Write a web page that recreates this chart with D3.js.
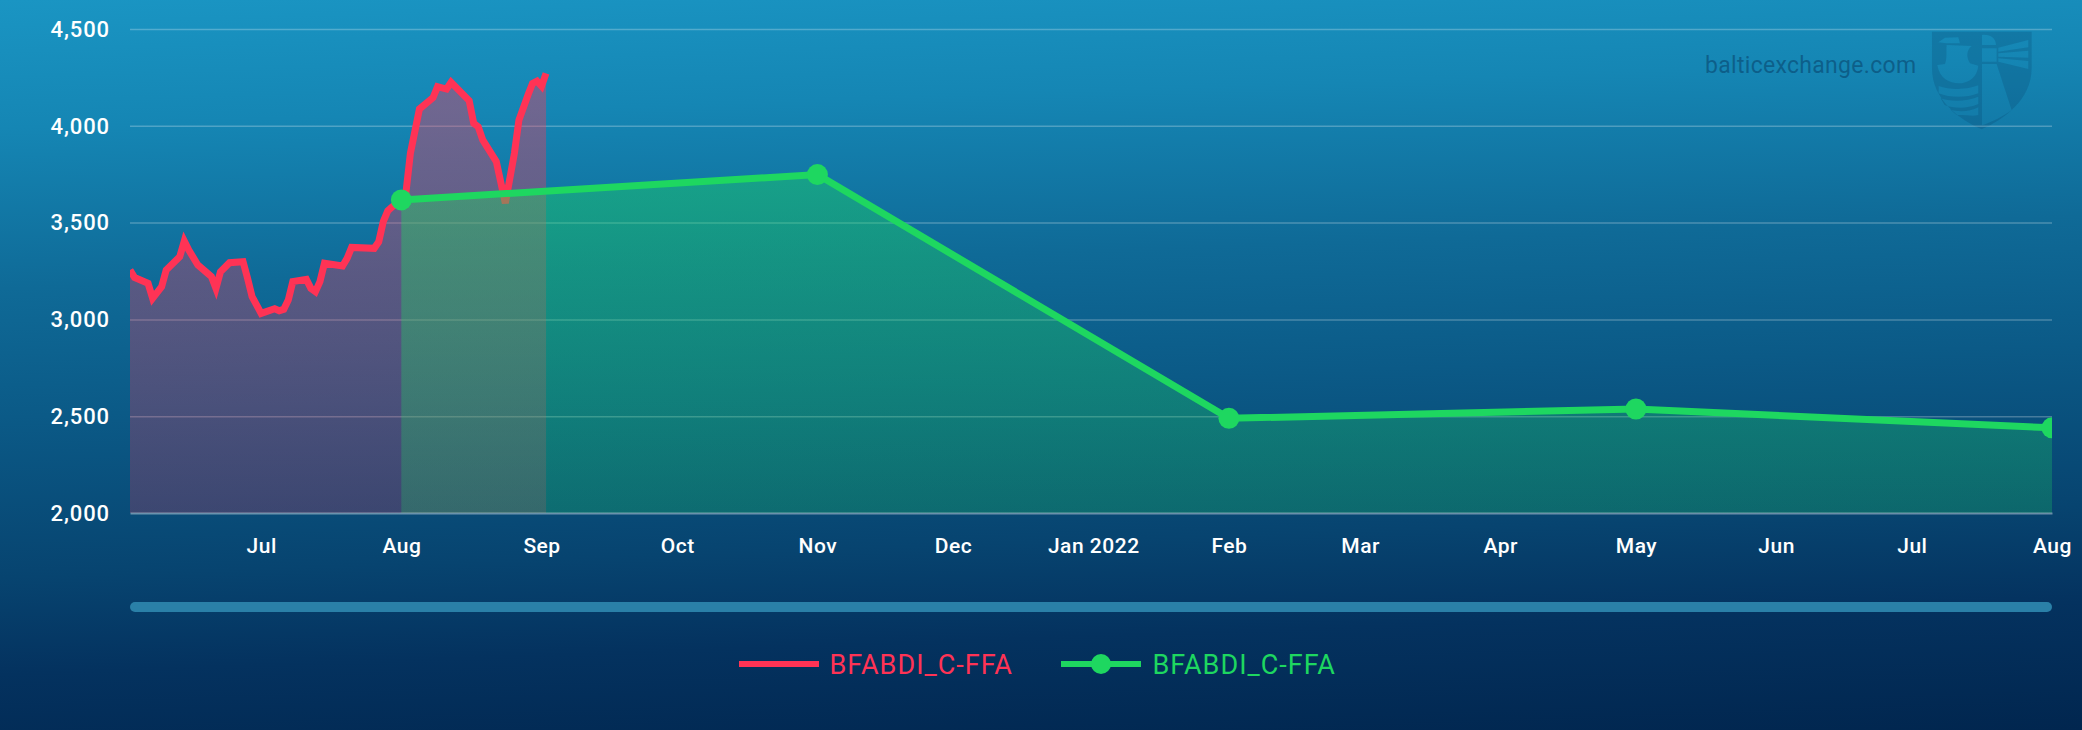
<!DOCTYPE html>
<html><head><meta charset="utf-8">
<script src="https://cdnjs.cloudflare.com/ajax/libs/d3/7.8.5/d3.min.js"></script>
<style>
html,body{margin:0;padding:0;width:2082px;height:730px;overflow:hidden;}
body{background:linear-gradient(178deg,#1a95c3 0%,#1586b4 16%,#0f6a97 36%,#0b5a87 52%,#074470 72%,#04325f 84%,#01264f 100%);}
svg{display:block;font-family:Roboto,sans-serif;}
</style></head><body>
<svg id="c" width="2082" height="730"></svg>
<script>
const redDates=["2021-06-02","2021-06-03","2021-06-06","2021-06-07","2021-06-09","2021-06-10","2021-06-13","2021-06-14","2021-06-15","2021-06-17","2021-06-20","2021-06-21","2021-06-22","2021-06-24","2021-06-27","2021-06-28","2021-06-29","2021-07-01","2021-07-04","2021-07-05","2021-07-06","2021-07-07","2021-07-08","2021-07-11","2021-07-12","2021-07-13","2021-07-14","2021-07-15","2021-07-19","2021-07-20","2021-07-21","2021-07-26","2021-07-27","2021-07-28","2021-07-29","2021-07-30","2021-08-01","2021-08-02","2021-08-03","2021-08-05","2021-08-08","2021-08-09","2021-08-11","2021-08-12","2021-08-16","2021-08-17","2021-08-18","2021-08-19","2021-08-22","2021-08-24","2021-08-26","2021-08-27","2021-08-29","2021-08-30","2021-08-31","2021-09-01","2021-09-02"];
const redValues=[3255,3217,3186,3109,3169,3255,3324,3405,3358,3281,3221,3160,3246,3293,3298,3212,3117,3031,3055,3045,3052,3100,3195,3207,3160,3143,3195,3290,3276,3315,3372,3367,3401,3505,3561,3582,3615,3651,3858,4087,4145,4202,4190,4225,4130,4013,3995,3927,3815,3600,3858,4030,4159,4219,4231,4205,4271];
const greenDates=["2021-08-01","2021-11-01","2022-01-31","2022-05-01","2022-08-01"];
const greenValues=[3617,3748,2489,2537,2440];
const yTicks=[2000,2500,3000,3500,4000,4500];
const xTickDates=["2021-07-01","2021-08-01","2021-09-01","2021-10-01","2021-11-01","2021-12-01","2022-01-01","2022-01-31","2022-03-01","2022-04-01","2022-05-01","2022-06-01","2022-07-01","2022-08-01"];
const xTickLabels=["Jul","Aug","Sep","Oct","Nov","Dec","Jan 2022","Feb","Mar","Apr","May","Jun","Jul","Aug"];
const seriesNames=["BFABDI_C-FFA","BFABDI_C-FFA"];
const RED="#ff3355",GREEN="#1ed760";
const L=130,R=2052,T=29,B=513;
const pd=d3.utcParse("%Y-%m-%d");
const x=d3.scaleUtc().domain([pd("2021-06-02"),pd("2022-08-01")]).range([L,R]);
const y=d3.scaleLinear().domain([2000,4500]).range([B,T]);
const svg=d3.select("#c");
const defs=svg.append("defs");
defs.append("clipPath").attr("id","plot").append("rect").attr("x",L).attr("y",0).attr("width",R-L).attr("height",B+6);
[["gr",RED,0.40,0.21],["gg",GREEN,0.42,0.24]].forEach(([id,c,a,b])=>{
 const g=defs.append("linearGradient").attr("id",id).attr("x1",0).attr("x2",0).attr("y1",0).attr("y2",1);
 g.append("stop").attr("offset",0).attr("stop-color",c).attr("stop-opacity",a);
 g.append("stop").attr("offset",1).attr("stop-color",c).attr("stop-opacity",b);
});

// watermark
const logo=svg.append("g").attr("class","watermark");
logo.append("text").attr("x",1705).attr("y",73).attr("font-size",23).attr("letter-spacing",0.3).attr("fill","#05385f").attr("fill-opacity",0.5).text("balticexchange.com");
logo.append("path").attr("transform","translate(1650,0) scale(0.3333)")
 .attr("fill","#05385f").attr("fill-opacity",0.2).attr("fill-rule","evenodd")
 .attr("d","M846,95 L1145,95 L1145,205 C1145,300 1060,360 995,388 C930,360 846,300 846,205 Z "+
  "M862,195 C868,235 900,250 925,250 C955,250 982,232 985,197 L960,190 C948,170 950,150 965,138 L890,135 C888,155 892,175 885,192 Z "+
  "M865,127 L885,113 L925,112 L930,130 L890,130 Z "+
  "M866,258 C900,270 950,270 985,256 L985,280 C950,294 900,294 866,280 Z "+
  "M872,295 C900,305 950,305 985,290 L985,312 C950,328 910,325 884,315 Z "+
  "M900,328 C925,338 960,335 985,322 L985,345 C970,350 950,345 920,345 Z "+
  "M996,105 C1020,102 1038,115 1038,135 L996,135 Z M996,145 L1040,145 L1040,185 L996,185 Z "+
  "M996,192 L1040,192 L1085,330 C1060,350 1020,368 996,376 Z "+
  "M1045,143 L1135,120 L1135,142 L1045,155 Z M1045,160 L1135,152 L1135,173 L1045,170 Z M1045,175 L1135,183 L1135,207 L1045,185 Z");

// grid and y axis
svg.append("g").attr("class","y-axis").attr("transform",`translate(${L},0)`)
 .call(d3.axisLeft(y).tickValues(yTicks).tickFormat(d3.format(",")).tickSize(-(R-L)).tickPadding(20))
 .call(g=>g.select(".domain").remove())
 .call(g=>g.selectAll("line").attr("stroke","#fff").attr("stroke-opacity",d=>d===2000?0:0.25).attr("stroke-width",1.5))
 .call(g=>g.selectAll("text").attr("fill","#fff").attr("font-size",22).attr("font-weight",500).attr("letter-spacing",0.9).attr("font-family","Roboto,sans-serif").attr("dy","0.33em"));

// series
const plot=svg.append("g").attr("clip-path","url(#plot)");
const red=redDates.map((d,i)=>({x:pd(d),v:redValues[i]}));
const green=greenDates.map((d,i)=>({x:pd(d),v:greenValues[i]}));
const area=d3.area().x(d=>x(d.x)).y0(y(2000)).y1(d=>y(d.v));
const line=d3.line().x(d=>x(d.x)).y(d=>y(d.v));
plot.append("path").datum(red).attr("d",area).attr("fill","url(#gr)");
plot.append("path").datum(red).attr("d",line).attr("fill","none").attr("stroke",RED).attr("stroke-width",7);
plot.append("path").datum(green).attr("d",area).attr("fill","url(#gg)");
plot.append("path").datum(green).attr("d",line).attr("fill","none").attr("stroke",GREEN).attr("stroke-width",7);
plot.selectAll("circle").data(green).join("circle").attr("cx",d=>x(d.x)).attr("cy",d=>y(d.v)).attr("r",10.5).attr("fill",GREEN);

// x axis
const xtick=new Map(xTickDates.map((d,i)=>[+pd(d),xTickLabels[i]]));
svg.append("g").attr("class","x-axis").attr("transform",`translate(0,${B})`)
 .call(d3.axisBottom(x).tickValues(xTickDates.map(pd)).tickFormat(d=>xtick.get(+d)).tickSizeInner(0).tickSizeOuter(0).tickPadding(25))
 .call(g=>g.select(".domain").attr("stroke","#fff").attr("stroke-opacity",0.4).attr("stroke-width",2))
 .call(g=>g.selectAll("text").attr("fill","#fff").attr("font-size",21).attr("font-weight",500).attr("letter-spacing",0.5).attr("font-family","Roboto,sans-serif"));

// navigator bar
svg.append("rect").attr("x",L).attr("y",602).attr("width",R-L).attr("height",10).attr("rx",5).attr("fill","#2a80a8");

// legend
const leg=svg.append("g").attr("class","legend");
[{x0:739,col:RED,mark:false,tx:829.5},{x0:1061,col:GREEN,mark:true,tx:1152.5}].forEach((l,i)=>{
 leg.append("line").attr("x1",l.x0).attr("x2",l.x0+80).attr("y1",664).attr("y2",664).attr("stroke",l.col).attr("stroke-width",6);
 if(l.mark)leg.append("circle").attr("cx",l.x0+40).attr("cy",664).attr("r",10).attr("fill",l.col);
 leg.append("text").attr("x",l.tx).attr("y",674).attr("font-size",27).attr("letter-spacing",1).attr("fill",l.col).text(seriesNames[i]);
});
</script></body></html>
